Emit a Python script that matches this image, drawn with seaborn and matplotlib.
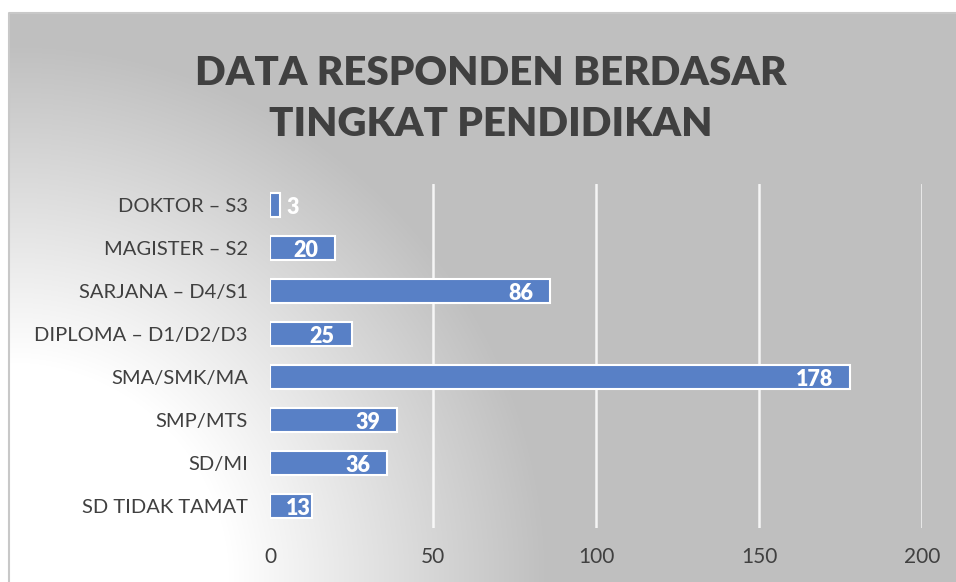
import numpy as np
import matplotlib
matplotlib.use("Agg")
import matplotlib.pyplot as plt
import seaborn as sns

# data
categories = [
    "DOKTOR – S3",
    "MAGISTER – S2",
    "SARJANA – D4/S1",
    "DIPLOMA – D1/D2/D3",
    "SMA/SMK/MA",
    "SMP/MTS",
    "SD/MI",
    "SD TIDAK TAMAT",
]
counts = [3, 20, 86, 25, 178, 39, 36, 13]
x_ticks = [0, 50, 100, 150, 200]
title = "DATA RESPONDEN BERDASAR\nTINGKAT PENDIDIKAN"

W, H = 956, 582
BAR = "#5880C6"
TXT = "#404040"

sns.set_theme(style="white")
plt.rcParams["font.family"] = ["Lato", "DejaVu Sans"]

fig = plt.figure(figsize=(W / 100, H / 100), dpi=100)

# background: radial gradient from the lower left corner
bg = fig.add_axes([0, 0, 1, 1], zorder=0)
yy, xx = np.mgrid[0:H, 0:W]
r = np.hypot(xx - 9, yy - 582)
shade = 255 - 64 * np.clip((r - 220) / 320, 0, 1)
shade[(xx < 9) | (yy < 12)] = 255
bg.imshow(np.dstack([shade] * 3).astype(np.uint8), aspect="auto",
          extent=(0, W, H, 0), interpolation="bilinear")
bg.plot([9.5, 9.5, W], [H, 12.5, 12.5], color="#c8c8c8", lw=1.5)
bg.set_xlim(0, W)
bg.set_ylim(H, 0)
bg.axis("off")

ax = fig.add_axes([270 / W, 1 - 527.5 / H, 652 / W, 344 / H], zorder=1)
ax.patch.set_alpha(0)

sns.barplot(x=counts, y=categories, orient="h", color=BAR, saturation=1,
            edgecolor="white", linewidth=1.5, width=0.58, ax=ax, zorder=3)

ax.set_xlim(0, 200)
ax.set_ylim(7.5, -0.5)
ax.set_xticks(x_ticks)
ax.set_xticklabels([str(t) for t in x_ticks])
ax.grid(axis="x", color="white", lw=1.8, alpha=0.85, zorder=0)
ax.grid(axis="y", visible=False)
for g, t in zip(ax.get_xgridlines(), x_ticks):
    if t == 0:
        g.set_visible(False)
for s in ax.spines.values():
    s.set_visible(False)
ax.tick_params(axis="x", length=0, pad=14, labelsize=15, labelcolor=TXT)
ax.tick_params(axis="y", length=0, pad=16, labelsize=14.5, labelcolor=TXT)
ax.set_xticks([0], minor=True)
ax.tick_params(axis="x", which="minor", length=3, width=1, color="#505050",
               direction="inout")
ax.set_xlabel("")
ax.set_ylabel("")

# value labels
for p, v in zip(ax.patches, counts):
    yc = p.get_y() + p.get_height() / 2
    if v < 5:
        off, ha = 5, "left"
    elif v < 15:
        off, ha = -1.5, "right"
    else:
        off, ha = -12, "right"
    ax.annotate(str(v), (v, yc), xytext=(off, -1.5), textcoords="offset points",
                ha=ha, va="center", color="white", fontsize=15.5,
                fontweight="heavy", zorder=5)

fig.text(491 / W, 1 - 99 / H, title, ha="center", va="center",
         fontsize=29, fontweight="heavy", color=TXT, linespacing=1.45,
         zorder=2)

fig.savefig("out.png", dpi=100)
